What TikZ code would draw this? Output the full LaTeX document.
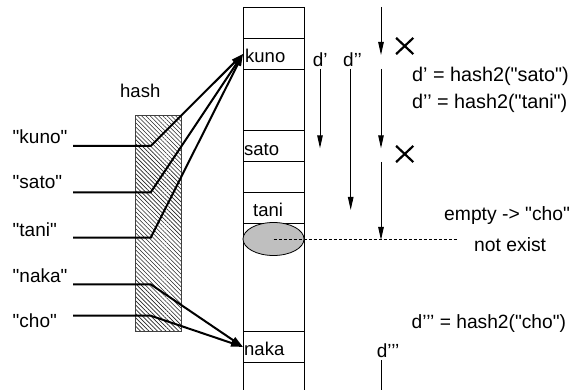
\documentclass[tikz,border=0pt]{standalone}
\usepackage{fontspec}
\setmainfont{Liberation Sans}[Ligatures=TeXOff]
\usetikzlibrary{arrows.meta,patterns.meta,shapes.misc,shapes.geometric}
\begin{document}
\begin{tikzpicture}[x=1pt,y=-1pt,
  lbl/.style={font=\fontsize{18.5}{20}\selectfont, inner sep=0pt, anchor=base west},
  keylbl/.style={lbl, font=\fontsize{19}{21}\selectfont},
  eqlbl/.style={lbl, font=\fontsize{19.8}{22}\selectfont},
  notelbl/.style={lbl, font=\fontsize{19.3}{21}\selectfont},
  cell/.style={draw, line width=0.8pt, minimum width=61pt, minimum height=31pt, inner sep=0pt, anchor=north west},
  conn/.style={line width=2pt, -{Triangle[length=12pt,width=7pt]}},
  darr/.style={line width=1pt, -{Triangle[length=13pt,width=5.5pt]}},
  plain/.style={line width=1pt},
  xmark/.style={cross out, draw, line width=2.2pt, minimum width=15pt, minimum height=14pt, inner sep=0pt},
  dots/.style={line width=0.8pt, dash pattern=on 3pt off 2pt}
]
\useasboundingbox (0,0) rectangle (571,390);

% hash box
\node[lbl] (hashlbl) at (120,98) {hash};
\node[draw=black!75, line width=0.8pt, pattern={Lines[angle=-45,distance=3pt,line width=0.6pt]}, pattern color=black!85,
      minimum width=46pt, minimum height=216pt, inner sep=0pt, anchor=north west] (hashbox) at (135,115) {};

% table
\draw[plain] (243,7) -- (243,390);
\draw[plain] (304,7) -- (304,390);
\node[cell] (c0) at (243,7) {};
\node[cell] (ckuno) at (243,38) {};
\node[cell] (csato) at (243,130.5) {};
\node[cell] (ctani) at (243,192) {};
\node[cell] (cnaka) at (243,331) {};
\node[lbl] (tkuno) at (245,62.5) {kuno};
\node[lbl] (tsato) at (244,156) {sato};
\node[lbl] (ttani) at (253,216.5) {tani};
\node[lbl] (tnaka) at (244,355.5) {naka};
\node[ellipse, draw, line width=0.8pt, fill=black!25, minimum width=61pt, minimum height=33pt, inner sep=0pt] (empty) at (273.5,239) {};

% keys
\node[keylbl] (kkuno) at (12.5,143.3) {"kuno"};
\node[keylbl] (ksato) at (12.5,189) {"sato"};
\node[keylbl] (ktani) at (12.5,236.6) {"tani"};
\node[keylbl] (knaka) at (12.5,282.3) {"naka"};
\node[keylbl] (kcho) at (12.5,327.3) {"cho"};

\coordinate (s1) at (73,146);   \coordinate (b1) at (150.7,146);
\coordinate (s2) at (73,192.3); \coordinate (b2) at (150.7,192.3);
\coordinate (s3) at (73,237.7); \coordinate (b3) at (150.7,237.7);
\coordinate (s4) at (73,284.3); \coordinate (b4) at (150.7,284.3);
\coordinate (s5) at (73,315.7); \coordinate (b5) at (150.7,315.7);
\draw[conn] (s1) -- (b1) -- (ckuno.west);
\draw[conn] (s2) -- (b2) -- (ckuno.west);
\draw[conn] (s3) -- (b3) -- (ckuno.west);
\draw[conn] (s4) -- (b4) -- (cnaka.west);
\draw[conn] (s5) -- (b5) -- (cnaka.west);

% probing arrows
\node[keylbl] (ld1) at (312.7,67) {d’};
\node[keylbl] (ld2) at (343,67) {d’’};
\coordinate (d1s) at (320,69);   \coordinate (d1e) at (320,148.3);
\coordinate (d2s) at (350.7,69); \coordinate (d2e) at (350.7,210);
\draw[darr] (d1s) -- (d1e);
\draw[darr] (d2s) -- (d2e);

\coordinate (p1s) at (381,7);   \coordinate (p1e) at (381,55);
\coordinate (p2s) at (381,69);  \coordinate (p2e) at (381,148.3);
\coordinate (p3s) at (381,162); \coordinate (p3e) at (381,240);
\draw[darr] (p1s) -- (p1e);
\draw[darr] (p2s) -- (p2e);
\draw[darr] (p3s) -- (p3e);
\node[xmark] (x1) at (404.7,46) {};
\node[xmark] (x2) at (404.7,154) {};

\coordinate (dotend) at (458,239);
\draw[dots] (empty.center) -- (dotend);

\node[eqlbl] (eq1) at (412,82) {d’ = hash2("sato")};
\node[eqlbl] (eq2) at (412,108.5) {d’’ = hash2("tani")};
\node[notelbl] (em) at (444,221) {empty -> "cho"};
\node[notelbl] (ne) at (474,251.5) {not exist};
\node[eqlbl, font=\fontsize{19.2}{21}\selectfont] (eq3) at (411.5,328.5) {d’’’ = hash2("cho")};

\node[keylbl] (ld3) at (376.7,358) {d’’’};
\coordinate (d3s) at (381.7,360); \coordinate (d3e) at (381.7,390);
\draw[plain] (d3s) -- (d3e);
\end{tikzpicture}
\end{document}
